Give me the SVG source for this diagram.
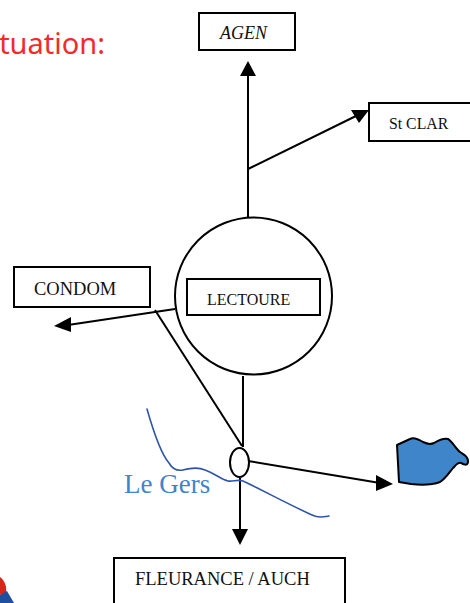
<svg xmlns="http://www.w3.org/2000/svg" width="470" height="603" viewBox="0 0 470 603">
<style>
.box{fill:#fff;stroke:#000;stroke-width:2}
.lbl{font-family:"Liberation Serif","Times New Roman",serif;fill:#111}
.ln{fill:none;stroke:#000;stroke-width:2}
.ah{fill:#000;stroke:none}
.river{fill:none;stroke:#2f55a8;stroke-width:1.6;stroke-linecap:round}
</style>
<text x="105" y="54" text-anchor="end" font-family="'Noto Sans','DejaVu Sans',sans-serif" font-size="29" fill="#f42a2a">tuation:</text>
<g id="connectors">
<path class="ln" d="M248 218V70"/><polygon class="ah" points="248,61 240,76 256,76"/>
<path class="ln" d="M248 169L358 115"/><polygon class="ah" points="369,110 351,110 359,123"/>
<path class="ln" d="M175 309L68 325"/><polygon class="ah" points="54,326 71,317 71,332"/>
<path class="ln" d="M155 310L242 446"/>
<path class="ln" d="M243 376V447"/>
<path class="ln" d="M248 461L380 483"/><polygon class="ah" points="393,484 376,475 376,491"/>
<path class="ln" d="M240 478V532"/><polygon class="ah" points="240,545 232,529 248,529"/>
</g>
<g id="node-agen"><rect class="box" x="199" y="13" width="96" height="37"/><text class="lbl" x="220" y="39" font-size="18" font-style="italic">AGEN</text></g>
<g id="node-stclar"><rect class="box" x="369" y="103" width="103" height="38"/><text class="lbl" x="389" y="129" font-size="15.800">St CLAR</text></g>
<g id="node-condom"><rect class="box" x="14" y="267" width="136" height="40"/><text class="lbl" x="34" y="295" font-size="18.500">CONDOM</text></g>
<g id="node-lectoure"><circle class="box" cx="253.500" cy="296" r="78.500"/><rect class="box" x="187" y="279" width="133" height="36"/><text class="lbl" x="207" y="305" font-size="16">LECTOURE</text></g>
<g id="node-junction"><ellipse class="box" cx="239.500" cy="462.500" rx="9.500" ry="14.500"/></g>
<g id="node-fleurance"><path class="box" d="M114 604V558H345V604"/><text class="lbl" x="135" y="585" font-size="18.500">FLEURANCE / AUCH</text></g>
<g id="river">
<path class="river" d="M147 409C153 430 162 455 169 463C173 470 178 471 183 470C192 468 198 467 205 470C214 473 222 480 228 481C233 482 237 479 243 481C262 490 290 505 312 515C319 518 323 517 329 516"/>
<text x="124" y="493" font-family="'Liberation Serif',serif" font-size="27" fill="#3f84cc">Le Gers</text>
</g>
<g id="node-lake"><path d="M397 445L410 439C414 437 418 439 423 442C427 444 430 445 434 443C439 440 444 438 448 439C452 441 456 449 460 452C464 455 468 456 468 461C468 466 465 465 461 463C458 462 456 465 453 468C449 473 445 479 440 482C432 485 420 485 411 484L399 482Z" fill="#3e86c9" stroke="#000" stroke-width="2" stroke-linejoin="round"/></g>
<g id="corner-fragment"><path d="M0 577C5 581 7 587 6 593L0 595Z" fill="#d8261c"/><path d="M0 595L7 591L14 603H0Z" fill="#1f4f9e"/></g>
</svg>
